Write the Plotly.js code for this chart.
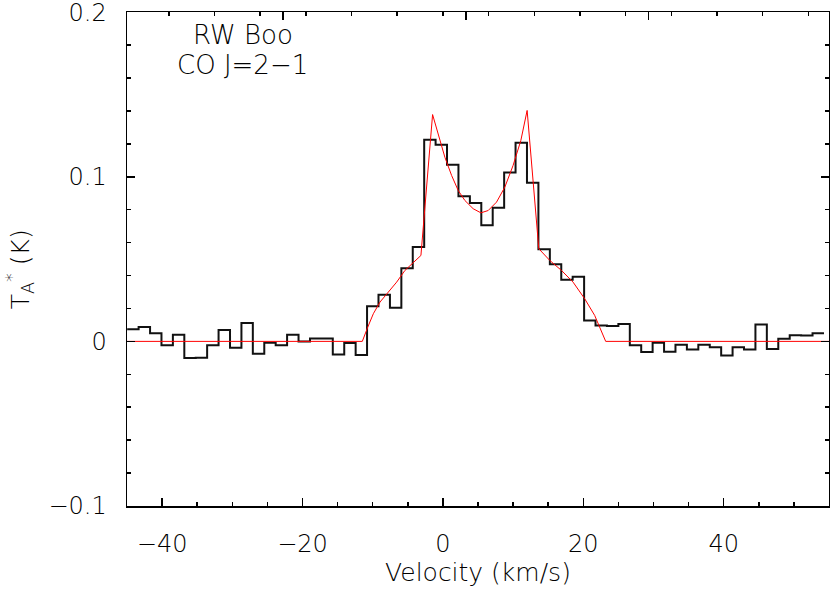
<!DOCTYPE html>
<html>
<head>
<meta charset="utf-8">
<script src="https://cdn.plot.ly/plotly-3.0.1.min.js"></script>
<style>
  html, body { margin: 0; padding: 0; background: #fff; }
  #chart { width: 830px; height: 592px; }
</style>
</head>
<body>
<div id="chart"></div>
<script>
// Channel centre velocities (km/s)
const velocity = [
  -44.16, -42.53, -40.90, -39.28, -37.65, -36.02, -34.40, -32.77, -31.14, -29.51,
  -27.89, -26.26, -24.63, -23.01, -21.38, -19.75, -18.12, -16.50, -14.87, -13.24,
  -11.62, -9.99, -8.36, -6.73, -5.11, -3.48, -1.85, -0.23, 1.40, 3.03,
  4.66, 6.28, 7.91, 9.54, 11.16, 12.79, 14.42, 16.05, 17.67, 19.30,
  20.93, 22.55, 24.18, 25.81, 27.44, 29.06, 30.69, 32.32, 33.94, 35.57,
  37.20, 38.83, 40.45, 42.08, 43.71, 45.33, 46.96, 48.59, 50.22, 51.84,
  53.47
];
// Antenna temperature per channel (K)
const antennaTemp = [
  0.0073, 0.0087, 0.0050, -0.0024, 0.0040, -0.0101, -0.0099, -0.0024, 0.0069, -0.0038,
  0.0111, -0.0075, -0.0008, -0.0024, 0.0040, 0.0000, 0.0018, 0.0018, -0.0079, -0.0010,
  -0.0083, 0.0214, 0.0283, 0.0205, 0.0445, 0.0573, 0.1225, 0.1194, 0.1073, 0.0882,
  0.0840, 0.0706, 0.0812, 0.1026, 0.1206, 0.0963, 0.0559, 0.0468, 0.0375, 0.0393,
  0.0127, 0.0096, 0.0093, 0.0105, -0.0024, -0.0065, -0.0008, -0.0063, -0.0020, -0.0049,
  -0.0020, -0.0035, -0.0085, -0.0036, -0.0050, 0.0103, -0.0047, 0.0016, 0.0038, 0.0036,
  0.0050
];
// Model fit (red curve)
const fitVelocity = [
  -45, -11.48, -10.7, -9.91, -8.96, -7.78, -6.59, -5.41, -4.22, -3.13,
  -1.47, -0.67, 0.28, 1.24, 2.18, 3.13, 4.31, 5.41, 6.45, 7.64,
  8.82, 10.0, 11.1, 12.0, 13.66, 15.22, 16.89, 18.54, 20.2, 21.62,
  22.33, 23.19, 55
];
const fitTemp = [
  0, 0, 0.0087, 0.0168, 0.0239, 0.0300, 0.0360, 0.0431, 0.0481, 0.0522,
  0.1378, 0.1261, 0.1119, 0.1008, 0.0917, 0.0856, 0.0806, 0.0781, 0.0795, 0.0846,
  0.0937, 0.1069, 0.1220, 0.1403, 0.0563, 0.0492, 0.0431, 0.0360, 0.0259, 0.0158,
  0.0087, 0, 0
];
const xTickVals = [-40, -20, 0, 20, 40];
const yTickVals = [-0.1, 0, 0.1, 0.2];
const yTickText = ["\u22120.1", "0", "0.1", "0.2"];
const sourceName = "RW Boo";
const lineName = "CO J=2\u22121";
const xLabel = "Velocity (km/s)";
const yLabel = "T<sub>A</sub><sup>*</sup> (K)";

// Build full-width steps (extend half a channel at both ends)
const half = (velocity[1] - velocity[0]) / 2;
const stepX = [velocity[0] - half].concat(velocity, [velocity[velocity.length - 1] + half]);
const stepY = [antennaTemp[0]].concat(antennaTemp, [antennaTemp[antennaTemp.length - 1]]);

const FONT = "'DejaVu Sans', 'Liberation Sans', sans-serif";
const W = 200;

const traces = [
  {
    x: stepX, y: stepY, type: 'scatter', mode: 'lines',
    line: { shape: 'hvh', color: '#111', width: 2 },
    hoverinfo: 'skip', showlegend: false
  },
  {
    x: fitVelocity, y: fitTemp, type: 'scatter', mode: 'lines',
    line: { color: '#ff0000', width: 1 },
    hoverinfo: 'skip', showlegend: false
  },
  {
    x: [-45, 55], y: [null, null], xaxis: 'x2', yaxis: 'y',
    type: 'scatter', mode: 'lines', hoverinfo: 'skip', showlegend: false
  }
];

const layout = {
  width: 830, height: 592,
  margin: { l: 127, r: 1, t: 12, b: 86, pad: 0 },
  paper_bgcolor: '#fff', plot_bgcolor: '#fff',
  font: { family: FONT, color: '#000', size: 24, weight: W },
  showlegend: false,
  xaxis: {
    range: [-45, 55], tickvals: xTickVals, ticks: 'inside', ticklen: 8, tickwidth: 1.5,
    tickcolor: '#000', showline: true, linecolor: '#000', linewidth: 1.5, mirror: false,
    showgrid: false, zeroline: false, tickfont: { size: 24, family: FONT, weight: W },
    ticklabelstandoff: 16,
    minor: { dtick: 5, tick0: 0, ticks: 'inside', ticklen: 4, tickwidth: 1.5, tickcolor: '#000', showgrid: false },
    title: { text: xLabel, font: { size: 25, family: FONT, weight: W }, standoff: 6 },
    automargin: false
  },
  xaxis2: {
    overlaying: 'x', side: 'top', anchor: 'y', range: [-45, 55],
    tick0: 3.27, dtick: 26.03, ticks: 'inside', ticklen: 8, tickwidth: 1.5, tickcolor: '#000',
    showticklabels: false, showline: true, linecolor: '#000', linewidth: 1.5,
    showgrid: false, zeroline: false,
    minor: { dtick: 6.5075, ticks: 'inside', ticklen: 4, tickwidth: 1.5, tickcolor: '#000', showgrid: false }
  },
  yaxis: {
    range: [-0.1, 0.2001], tickvals: yTickVals, ticktext: yTickText, ticks: 'inside', ticklen: 8, tickwidth: 1.5,
    tickcolor: '#000', showline: true, linecolor: '#000', linewidth: 1.5, mirror: 'ticks',
    showgrid: false, zeroline: false, tickfont: { size: 24, family: FONT, weight: W },
    ticklabelstandoff: 14, ticklabeloverflow: 'allow',
    minor: { dtick: 0.02, tick0: 0, ticks: 'inside', ticklen: 4, tickwidth: 1.5, tickcolor: '#000', showgrid: false },
    automargin: false
  },
  annotations: [
    { text: sourceName, xref: 'paper', yref: 'paper', x: 0.165, y: 0.953,
      xanchor: 'center', yanchor: 'middle', showarrow: false, font: { size: 26, family: FONT, weight: W } },
    { text: lineName, xref: 'paper', yref: 'paper', x: 0.165, y: 0.893,
      xanchor: 'center', yanchor: 'middle', showarrow: false, font: { size: 26, family: FONT, weight: W } },
    { text: yLabel, xref: 'paper', yref: 'paper', x: -0.152, y: 0.48, textangle: -90,
      xanchor: 'center', yanchor: 'middle', showarrow: false, font: { size: 25, family: FONT, weight: W } }
  ]
};

Plotly.newPlot('chart', traces, layout, { staticPlot: true, displayModeBar: false });
</script>
</body>
</html>
